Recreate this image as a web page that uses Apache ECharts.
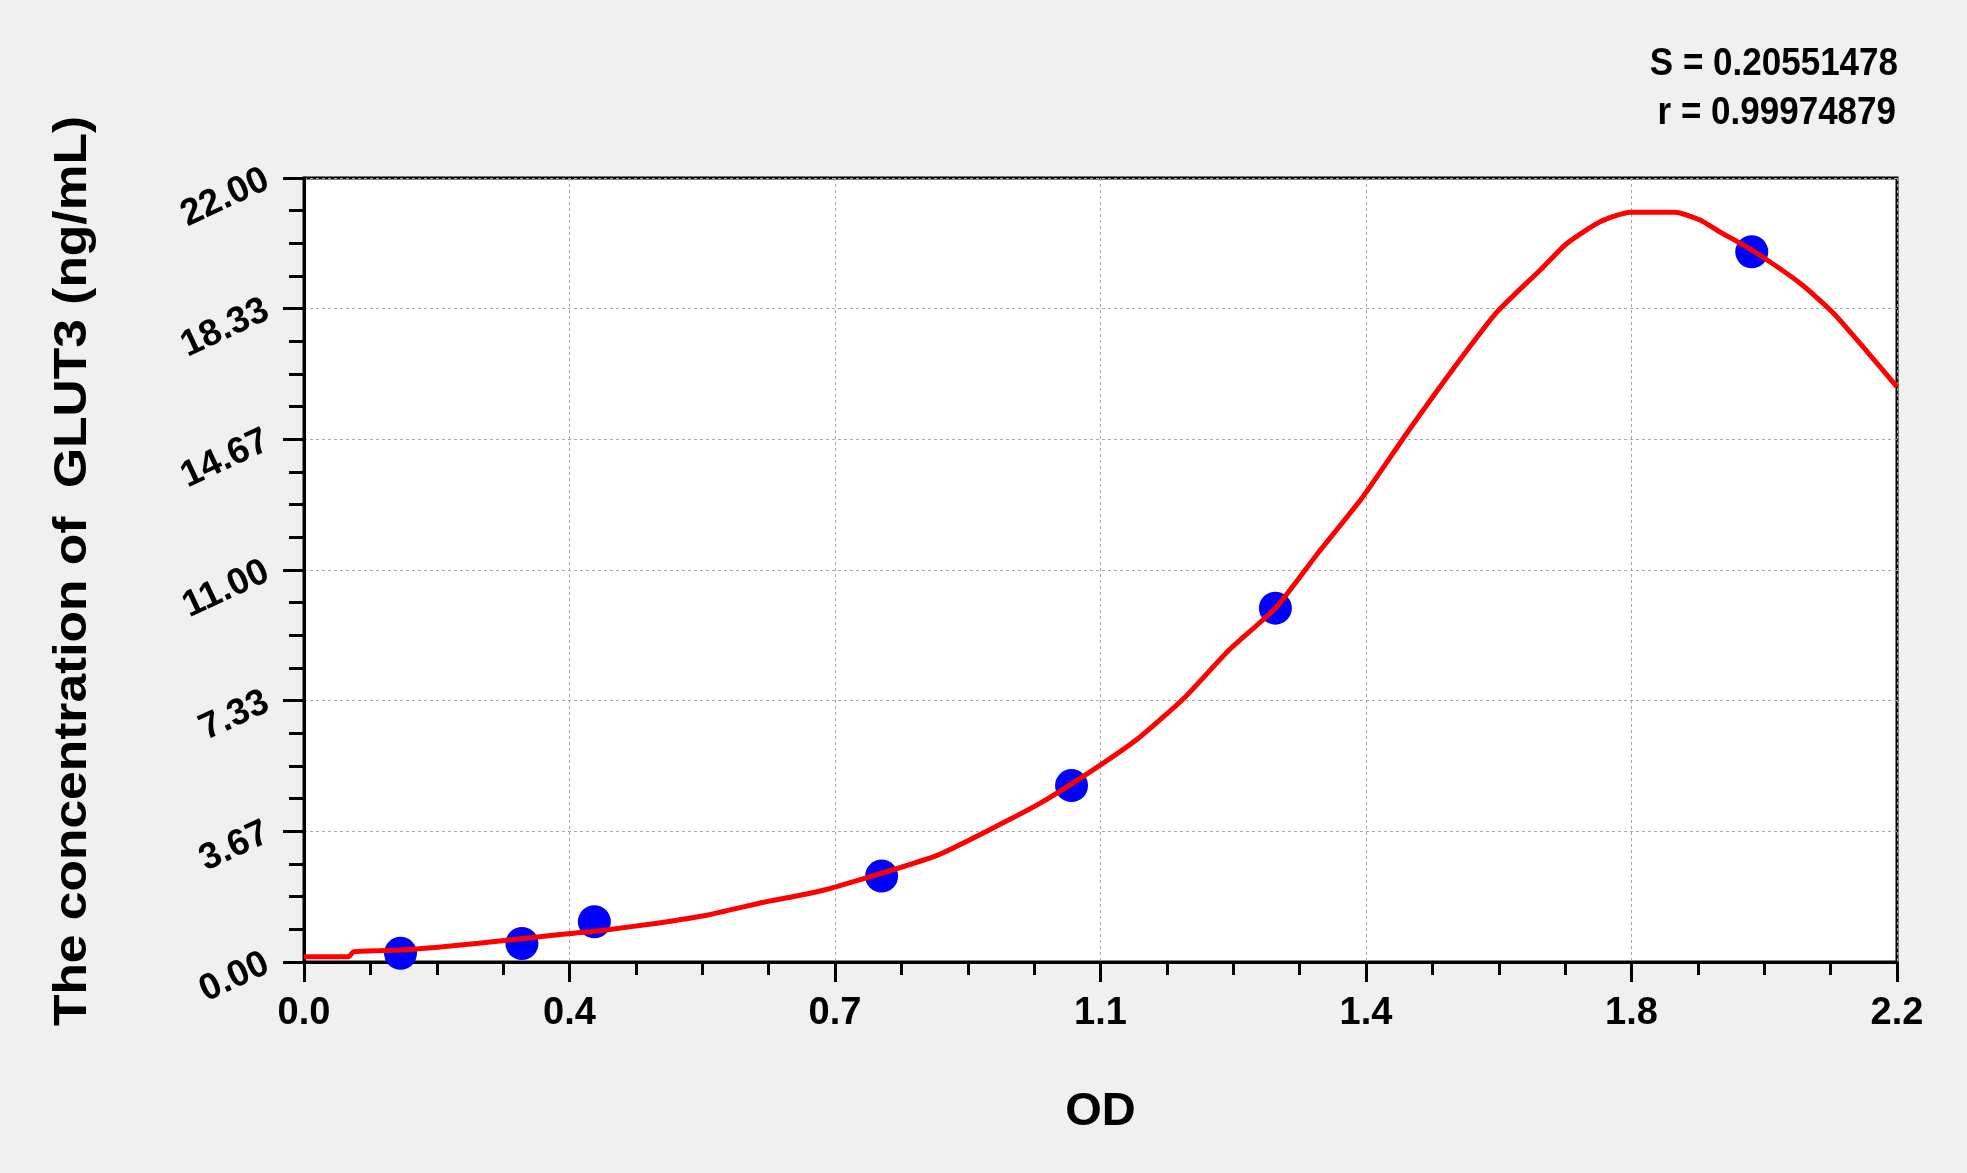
<!DOCTYPE html>
<html>
<head>
<meta charset="utf-8">
<script src="https://cdn.jsdelivr.net/npm/echarts@6/dist/echarts.min.js"></script>
<style>
html,body{margin:0;padding:0;background:#f0f0f0;}
#c{width:1967px;height:1173px;}
</style>
</head>
<body>
<div id="c"></div>
<script>
// Standard points (OD, concentration ng/mL)
const standardOD = [0.1333, 0.301, 0.401, 0.7977, 1.060, 1.3415, 1.9994];
const standardConc = [0.244, 0.52, 1.13, 2.41, 4.95, 9.93, 19.93];

// Fitted curve
const curveOD = [0.0, 0.0615, 0.0685, 0.1354, 0.1918, 0.2411, 0.3256, 0.3679, 0.417, 0.4875, 0.5579, 0.6287, 0.699, 0.7343, 0.7977, 0.8753, 0.9457, 1.0162, 1.0919, 1.1536, 1.2152, 1.2769, 1.3415, 1.4002, 1.4619, 1.5235, 1.5852, 1.6468, 1.7085, 1.744, 1.790, 1.8318, 1.8935, 1.928, 1.9551, 1.9994, 2.0666, 2.1126, 2.1586, 2.2];
const curveConc = [0.149, 0.149, 0.29, 0.337, 0.43, 0.525, 0.71, 0.80, 0.90, 1.09, 1.32, 1.65, 1.93, 2.11, 2.49, 3.00, 3.70, 4.45, 5.42, 6.30, 7.40, 8.74, 9.93, 11.47, 13.04, 14.85, 16.59, 18.22, 19.44, 20.16, 20.77, 21.04, 21.04, 20.82, 20.49, 19.98, 19.04, 18.20, 17.13, 16.14];

const xTickLabels = ['0.0', '0.4', '0.7', '1.1', '1.4', '1.8', '2.2'];
const yTickLabels = ['0.00', '3.67', '7.33', '11.00', '14.67', '18.33', '22.00'];
const statLines = ['S = 0.20551478', 'r = 0.99974879'];
const xTitle = 'OD';
const yTitle = 'The concentration of  GLUT3 (ng/mL)';

const xMax = 2.2, yMax = 22;
const xInterval = xMax / 6, yInterval = yMax / 6;
const FONT = '"Liberation Sans", Arial, sans-serif';

const chart = echarts.init(document.getElementById('c'));
chart.setOption({
  backgroundColor: '#f0f0f0',
  animation: false,
  grid: {
    left: 304, right: 70, top: 178, bottom: 211,
    show: true, backgroundColor: '#ffffff', borderColor: '#000', borderWidth: 3
  },
  xAxis: {
    type: 'value', min: 0, max: xMax, interval: xInterval,
    name: xTitle, nameLocation: 'middle', nameGap: 127,
    nameTextStyle: { fontFamily: FONT, fontWeight: 'bold', fontSize: 47, color: '#000' },
    axisLine: { show: true, onZero: false, lineStyle: { color: '#000', width: 3 } },
    axisTick: { show: true, inside: false, length: 20, lineStyle: { color: '#000', width: 3 } },
    minorTick: { show: true, splitNumber: 4, length: 13, lineStyle: { color: '#000', width: 3 } },
    splitLine: { show: true, lineStyle: { color: '#a8a8a8', width: 1, type: [3, 3] } },
    axisLabel: {
      margin: 33, fontFamily: FONT, fontWeight: 'bold', fontSize: 38, color: '#000',
      formatter: v => xTickLabels[Math.round(v / xInterval)]
    }
  },
  yAxis: {
    type: 'value', min: 0, max: yMax, interval: yInterval,
    axisLine: { show: true, onZero: false, lineStyle: { color: '#000', width: 3 } },
    axisTick: { show: true, inside: false, length: 21, lineStyle: { color: '#000', width: 3 } },
    minorTick: { show: true, splitNumber: 4, length: 15, lineStyle: { color: '#000', width: 3 } },
    splitLine: { show: true, lineStyle: { color: '#a8a8a8', width: 1, type: [3, 3] } },
    axisLabel: {
      margin: 37, rotate: 25, fontFamily: FONT, fontWeight: 'bold', fontSize: 37, color: '#000',
      formatter: v => yTickLabels[Math.round(v / yInterval)]
    }
  },
  graphic: [
    { type: 'text', x: 1898, y: 64, scaleY: 1.12, style: { text: statLines[0], fontFamily: FONT, fontWeight: 'bold', fontSize: 35, fill: '#000', textAlign: 'right', textVerticalAlign: 'middle' } },
    { type: 'text', x: 1896, y: 113, scaleY: 1.12, style: { text: statLines[1], fontFamily: FONT, fontWeight: 'bold', fontSize: 35, fill: '#000', textAlign: 'right', textVerticalAlign: 'middle' } },
    { type: 'text', x: 73, y: 571, rotation: Math.PI / 2, scaleX: 1.12,
      style: { text: yTitle, fontFamily: FONT, fontWeight: 'bold', fontSize: 46, fill: '#000', textAlign: 'center', textVerticalAlign: 'middle' } }
  ],
  series: [
    {
      type: 'scatter', z: 2,
      symbol: 'circle', symbolSize: 33,
      itemStyle: { color: '#0000ff', opacity: 1 },
      data: standardOD.map((x, i) => [x, standardConc[i]])
    },
    {
      type: 'line', z: 3, smooth: 0.2,
      showSymbol: false, symbol: 'none', clip: true,
      lineStyle: { color: '#ff0000', width: 5 },
      data: curveOD.map((x, i) => [x, curveConc[i]])
    }
  ]
});
</script>
</body>
</html>
